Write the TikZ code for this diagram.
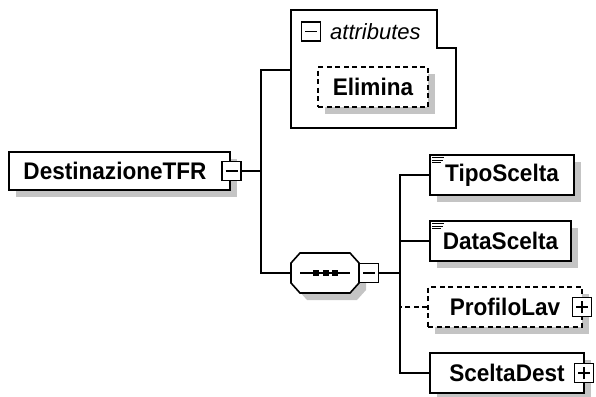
\documentclass[tikz,border=0pt]{standalone}
\usepackage{fontspec}
\setmainfont{Liberation Sans}
\newfontfamily\elfont{Liberation Sans}[FakeStretch=0.94]
\definecolor{shadowc}{RGB}{196,196,196}
\tikzset{
  shadowed/.style={preaction={draw=none, fill=shadowc, transform canvas={shift={(7pt,-7pt)}}}},
  elem/.style={shadowed, draw, line width=1.5pt, fill=white, inner sep=0pt,
    minimum height=40pt, font=\elfont\bfseries\fontsize{24}{24}\selectfont},
  optelem/.style={elem, dash pattern=on 5pt off 3.5pt},
  xbox/.style={draw, fill=white, line width=1.4pt, minimum size=19pt, inner sep=0pt},
  conn/.style={line width=1.6pt},
  sign/.style={line width=1.4pt},
  icon/.style={line width=1pt}
}
\begin{document}
\begin{tikzpicture}[x=1pt,y=-1pt]
\useasboundingbox (0,0) rectangle (596,396);

% attributes container
\draw[conn] (291,10) -- (437,10) -- (437,48) -- (456,48) -- (456,128) -- (291,128) -- cycle;
\coordinate (attrW) at (291,70);
\node[xbox] (attrx) at (311,31.5) {};
\draw[sign] ([xshift=-6pt]attrx.center) -- ([xshift=6pt]attrx.center);
\node[anchor=base west, inner sep=0pt, font=\itshape\fontsize{22}{22}\selectfont] (attrlbl) at (330,40) {attributes};
\node[optelem, minimum width=110pt] (elim) at (373,87) {Elimina};

% root element
\node[elem, minimum width=221pt, minimum height=38pt] (dest) at (119.5,171) {\hspace*{-9pt}DestinazioneTFR};
\node[xbox] (destx) at (231.5,171) {};
\draw[sign] ([xshift=-6pt]destx.center) -- ([xshift=6pt]destx.center);

% sequence compositor
\draw[conn, fill=white, shadowed] (291,263) -- (300,253) -- (350,253) -- (359,263) -- (359,283) -- (350,293) -- (300,293) -- (291,283) -- cycle;
\coordinate (seqW) at (291,273);
\draw[line width=1.3pt] (300,273) -- (350,273);
\foreach \cx in {316,325.5,335} { \fill (\cx-3,270) rectangle (\cx+3,276); }
\node[xbox] (seqx) at (369,273) {};
\draw[sign] ([xshift=-6pt]seqx.center) -- ([xshift=6pt]seqx.center);

% children
\node[elem, minimum width=144pt] (tipo) at (502,175) {TipoScelta};
\node[elem, minimum width=141pt] (data) at (500.5,241) {DataScelta};
\node[optelem, minimum width=154pt] (prof) at (505,307) {ProfiloLav};
\node[elem, minimum width=154pt] (scel) at (507,373) {SceltaDest};
\node[xbox] (profx) at (582,307) {};
\draw[sign] ([xshift=-6pt]profx.center) -- ([xshift=6pt]profx.center);
\draw[sign] ([yshift=-6pt]profx.center) -- ([yshift=6pt]profx.center);
\node[xbox] (scelx) at (584,373) {};
\draw[sign] ([xshift=-6pt]scelx.center) -- ([xshift=6pt]scelx.center);
\draw[sign] ([yshift=-6pt]scelx.center) -- ([yshift=6pt]scelx.center);

% simple-content icons
\foreach \n in {tipo,data} {
  \draw[icon] ([xshift=3pt,yshift=-3.5pt]\n.north west) -- ++(12,0);
  \draw[icon] ([xshift=3pt,yshift=-6pt]\n.north west) -- ++(10.5,0);
  \draw[icon] ([xshift=3pt,yshift=-8.5pt]\n.north west) -- ++(8.5,0);
}

% connectors
\coordinate (j1) at (261,171);
\draw[conn] (destx.east) -- (j1);
\draw[conn] (attrW) -| (j1) |- (seqW);
\coordinate (j2) at (400,273);
\draw[conn] (seqx.east) -- (j2);
\draw[conn] (tipo.west) -| (j2) |- (scel.west);
\draw[conn] (data.west) -- (data.west -| j2);
\draw[conn, dash pattern=on 5pt off 3.5pt] (prof.west) -- (prof.west -| j2);
\end{tikzpicture}
\end{document}
